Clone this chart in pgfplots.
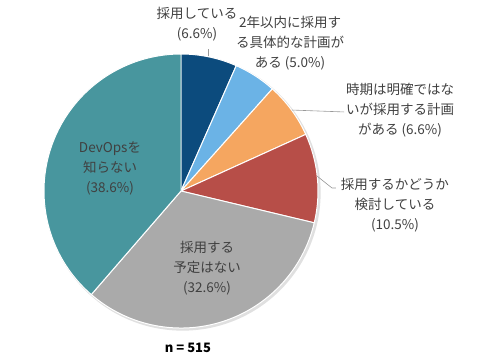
\documentclass[border=0pt]{standalone}
\usepackage{pgfplots}
\pgfplotsset{compat=1.18}
\usepackage{fontspec}
\setmainfont{Noto Sans CJK JP}
\definecolor{cA}{RGB}{12,75,125}
\definecolor{cB}{RGB}{107,179,230}
\definecolor{cC}{RGB}{245,166,96}
\definecolor{cD}{RGB}{183,78,72}
\definecolor{cE}{RGB}{170,170,170}
\definecolor{cF}{RGB}{72,150,158}
\definecolor{txt}{RGB}{64,64,64}
% shares (%), clockwise from the top
\def\vA{6.6}\def\vB{5.0}\def\vC{6.6}\def\vD{10.5}\def\vE{32.6}\def\vF{38.6}
\pgfmathsetmacro\tot{\vA+\vB+\vC+\vD+\vE+\vF}
\pgfmathsetmacro\k{360/\tot}
\pgfmathsetmacro\aA{90}
\pgfmathsetmacro\aB{\aA-\k*\vA}
\pgfmathsetmacro\aC{\aB-\k*\vB}
\pgfmathsetmacro\aD{\aC-\k*\vC}
\pgfmathsetmacro\aE{\aD-\k*\vD}
\pgfmathsetmacro\aF{\aE-\k*\vE}
\pgfmathsetmacro\aG{\aF-\k*\vF}
\begin{document}
\begin{tikzpicture}
\begin{axis}[hide axis, x=137bp, y=137bp,
  xmin=-1.3212, xmax=2.2920, ymin=-1.2336, ymax=1.3942,
  clip=false, anchor=origin]
\addplot[draw=none, forget plot] coordinates {(0,0)};
\coordinate (bl) at (axis cs:-1.3212,-1.2336);
\coordinate (tr) at (axis cs:2.2920,1.3942);
\fill[black!12] (axis cs:0.012,-0.012) circle[radius=138bp];
\fill[cA, draw=white, line width=1pt] (axis cs:0,0) -- ({cos(\aA)},{sin(\aA)}) arc[start angle=\aA, end angle=\aB, radius=137bp] -- cycle;
\fill[cB, draw=white, line width=1pt] (axis cs:0,0) -- ({cos(\aB)},{sin(\aB)}) arc[start angle=\aB, end angle=\aC, radius=137bp] -- cycle;
\fill[cC, draw=white, line width=1pt] (axis cs:0,0) -- ({cos(\aC)},{sin(\aC)}) arc[start angle=\aC, end angle=\aD, radius=137bp] -- cycle;
\fill[cD, draw=white, line width=1pt] (axis cs:0,0) -- ({cos(\aD)},{sin(\aD)}) arc[start angle=\aD, end angle=\aE, radius=137bp] -- cycle;
\fill[cE, draw=white, line width=1pt] (axis cs:0,0) -- ({cos(\aE)},{sin(\aE)}) arc[start angle=\aE, end angle=\aF, radius=137bp] -- cycle;
\fill[cF, draw=white, line width=1pt] (axis cs:0,0) -- ({cos(\aF)},{sin(\aF)}) arc[start angle=\aF, end angle=\aG, radius=137bp] -- cycle;
% leader lines
\draw[gray!80, line width=0.6pt] (axis cs:0.197,1.036) -- (axis cs:0.197,0.985);
\draw[gray!80, line width=0.6pt] (axis cs:0.810,0.591) -- (axis cs:1.190,0.577);
\draw[gray!80, line width=0.6pt] (axis cs:0.993,0.109) -- (axis cs:1.102,0.022) -- (axis cs:1.131,0.022);
% labels
\begin{scope}[every node/.style={align=center, text=txt, font=\fontsize{13.5bp}{20bp}\selectfont, inner sep=0pt}]
\node at (axis cs:0.117,1.219) {採用している\\(6.6\%)};
\node at (axis cs:0.796,1.080) {2年以内に採用す\\る具体的な計画が\\ある (5.0\%)};
\node at (axis cs:1.599,0.591) {時期は明確ではな\\いが採用する計画\\がある (6.6\%)};
\node at (axis cs:1.562,-0.102) {採用するかどうか\\検討している\\(10.5\%)};
\node at (axis cs:-0.518,0.168) {DevOpsを\\知らない\\(38.6\%)};
\node at (axis cs:0.190,-0.562) {採用する\\予定はない\\(32.6\%)};
\end{scope}
\node[font=\fontsize{13bp}{15bp}\selectfont\bfseries, inner sep=0pt] at (axis cs:0.051,-1.146) {n = 515};
\end{axis}
\pgfresetboundingbox
\path[use as bounding box] (bl) rectangle (tr);
\end{tikzpicture}
\end{document}
